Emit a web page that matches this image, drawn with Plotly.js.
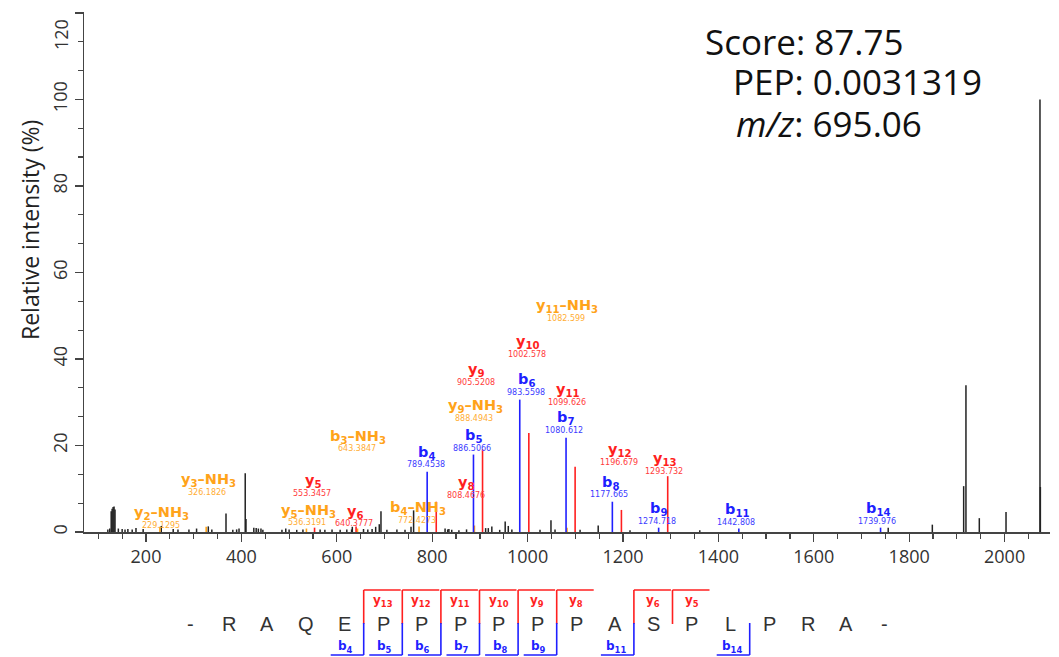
<!DOCTYPE html>
<html><head><meta charset="utf-8">
<script src="https://cdn.plot.ly/plotly-3.0.1.min.js"></script>
<style>html,body{margin:0;padding:0;background:#fff;}#chart{width:1059px;height:657px;}</style>
</head><body><div id="chart"></div>
<script>
// ---------------- data ----------------
const unassignedMz = [120,124,127,129,131,133,135,142,150,156,162,171,179,194,232,257,267,290,306,330.6,338,367.7,382,390,395,408,409.6,426,431,435.5,441,445,485,493,500,516,529,565,575,590,607,621,631,632.5,656,665,674,681.5,689,692.6,705,726,743,755.6,761,827,832.5,835,841,856,872,912,917.6,925,941.5,953,959.5,967,1026,1049,1057.5,1110,1148,1214.7,1361,1756,1848.5,1914.2,1919,1947,2003,2074.2,2075];
const unassignedInt = [0.6,0.8,4.8,5.4,5.8,5.9,5.2,0.8,0.7,0.6,0.7,0.6,0.9,0.7,1.4,0.7,0.6,0.6,0.8,1.3,0.6,4.3,0.5,0.6,0.8,13.6,3.0,1.0,0.9,0.8,0.8,0.5,0.5,0.8,0.6,0.5,0.6,0.6,0.5,0.6,0.5,0.6,0.6,1.2,0.7,0.6,0.7,1.2,1.8,4.8,0.5,0.6,0.5,1.2,5.0,0.8,0.6,0.7,0.5,0.4,0.6,0.9,0.9,1.3,0.5,2.4,1.4,0.6,0.5,2.7,0.6,0.5,1.5,0.4,0.4,1.0,1.7,10.6,33.9,3.2,4.6,100,10.4];

const bNames = ['b4','b5','b6','b7','b8','b9','b11','b14'];
const bMz    = [789.4538,886.5066,983.5598,1080.612,1177.665,1274.718,1442.808,1739.976];
const bInt   = [13.9,17.9,30.6,21.8,7.0,1.0,0.8,1.0];
const bLabelTxt = ['789.4538','886.5066','983.5598','1080.612','1177.665','1274.718','1442.808','1739.976'];

const yNames = ['y5','y6','y8','y9','y10','y11','y12','y13'];
const yMz    = [553.3457,640.3777,808.4676,905.5208,1002.578,1099.626,1196.679,1293.732];
const yInt   = [1.0,1.3,7.0,19.1,22.9,15.1,5.1,12.9];
const yLabelTxt = ['553.3457','640.3777','808.4676','905.5208','1002.578','1099.626','1196.679','1293.732'];

const nNames = ['y2-NH3','y3-NH3','y5-NH3','b3-NH3','b4-NH3','y9-NH3','y11-NH3'];
const nMz    = [229.1295,326.1826,536.3191,643.3847,772.4273,888.4943,1082.599];
const nInt   = [1.2,1.2,0.8,0.8,1.3,1.5,1.0];
const nLabelTxt = ['229.1295','326.1826','536.3191','643.3847','772.4273','888.4943','1082.599'];

const peptide = ['R','A','Q','E','P','P','P','P','P','P','A','S','P','L','P','R','A'];
const seqY = [13,12,11,10,9,8,6,5];
const seqB = [4,5,6,7,8,9,11,14];

const yTickVals = [0,20,40,60,80,100,120];
const yTickText = ['0','20','40','60','80','100',''];

const infoLines = ['Score: 87.75','PEP: 0.0031319','<i>m/z</i>: 695.06'];

// ---------------- layout helpers (pixel positions of text) ----------------
const P = {l:84, t:12, w:966, h:520};
const px = x => (x - P.l) / P.w;
const py = y => (P.t + P.h - y) / P.h;

const COL = {b:'#1f1fff', y:'#ff1f1f', n:'#ffa31a', k:'#222222'};
const COLNUM = {b:'#3b3bff', y:'#ff3b3b', n:'#ffad33'};

const bLabelPos = [[426.7,452.7],[473.3,436],[526.7,380],[565,418.3],[610,482.7],[658.3,509.3],[736.7,510],[878.3,509]];
const yLabelPos = [[313.3,481],[355,511.7],[466.7,483.3],[476.7,370],[528.3,342.3],[568.3,390],[620,450],[665,459.3]];
const nLabelPos = [[161.7,513.3],[208.3,480],[308.3,510.7],[358.3,436.7],[418.3,508.3],[475,406],[567.3,306]];

function sticks(mz, it){
  const xs=[], ys=[];
  mz.forEach((m,i)=>{xs.push(m,m,null); ys.push(0,it[i],null);});
  return {xs, ys};
}
function fmtIon(n){
  const m = n.match(/^([by])(\d+)(-NH3)?$/);
  let s = m[1] + '<sub>' + m[2] + '</sub>';
  if (m[3]) s += '–NH<sub>3</sub>';
  return '<b>' + s + '</b>';
}

const traces = [];
function addSticks(mz, it, color, width){
  const s = sticks(mz, it);
  traces.push({type:'scatter', mode:'lines', x:s.xs, y:s.ys, line:{color, width}, hoverinfo:'skip', showlegend:false, connectgaps:false});
}
addSticks(unassignedMz, unassignedInt, COL.k, 1.5);
addSticks(nMz, nInt, COL.n, 1.6);
addSticks(bMz, bInt, COL.b, 1.6);
addSticks(yMz, yInt, COL.y, 1.6);

const ann = [];
function ionLabels(names, nums, pos, key){
  names.forEach((n,i)=>{
    const [x,y] = pos[i];
    ann.push({xref:'paper', yref:'paper', x:px(x), y:py(y), text:fmtIon(n), showarrow:false,
      xanchor:'center', yanchor:'middle', font:{family:'DejaVu Sans', size:14.5, color:COL[key]}});
    ann.push({xref:'paper', yref:'paper', x:px(x-1), y:py(y+12), text:nums[i], showarrow:false,
      xanchor:'center', yanchor:'middle', font:{family:'DejaVu Sans', size:8, color:COLNUM[key]}});
  });
}
ionLabels(bNames, bLabelTxt, bLabelPos, 'b');
ionLabels(yNames, yLabelTxt, yLabelPos, 'y');
ionLabels(nNames, nLabelTxt, nLabelPos, 'n');

// top y tick label, kept inside the picture as in the reference
ann.push({xref:'paper', yref:'paper', x:px(61), y:py(35), text:'120', textangle:-90, showarrow:false,
  xanchor:'center', yanchor:'middle', font:{family:'Open Sans', size:18, color:'#333'}});

// y-axis title
ann.push({xref:'paper', yref:'paper', x:px(30), y:py(230), text:'Relative intensity (%)', textangle:-90,
  showarrow:false, xanchor:'center', yanchor:'middle', font:{family:'Open Sans', size:23, color:'#222'}});

// info block
const infoX = [703, 731, 734];
const infoY = [41, 82, 123];
infoLines.forEach((t,i)=>{
  ann.push({xref:'paper', yref:'paper', x:px(infoX[i]), y:py(infoY[i]), text:t, showarrow:false,
    xanchor:'left', yanchor:'middle', font:{family:'Open Sans', size:35, color:'#111'}});
});

// sequence diagram
const shapes = [];
const seqAll = ['-'].concat(peptide, ['-']);
const cx = i => 190 + 38.6 * i;
seqAll.forEach((r,i)=>{
  ann.push({xref:'paper', yref:'paper', x:px(cx(i)), y:py(624), text:r, showarrow:false,
    xanchor:'center', yanchor:'middle', font:{family:'Liberation Sans', size:20, color:'#333'}});
});
const N = peptide.length;
const bx = k => 190 + 38.6 * (k + 0.5);
const line = (x0,y0,x1,y1,c) => shapes.push({type:'line', xref:'paper', yref:'paper', x0:px(x0), y0:py(y0), x1:px(x1), y1:py(y1), line:{color:c, width:1.6}});
seqY.forEach(k=>{
  const x = bx(N - k);
  line(x, 624, x, 590, COL.y);
  line(x, 590, x + 37, 590, COL.y);
  ann.push({xref:'paper', yref:'paper', x:px(x + 19), y:py(601), text:'<b>y<sub>'+k+'</sub></b>', showarrow:false,
    xanchor:'center', yanchor:'middle', font:{family:'DejaVu Sans', size:12, color:COL.y}});
});
seqB.forEach(k=>{
  const x = bx(k);
  line(x, 623, x, 655, COL.b);
  line(x - 33, 655, x, 655, COL.b);
  ann.push({xref:'paper', yref:'paper', x:px(x - 18), y:py(647), text:'<b>b<sub>'+k+'</sub></b>', showarrow:false,
    xanchor:'center', yanchor:'middle', font:{family:'DejaVu Sans', size:12, color:COL.b}});
});

const axisCommon = {showline:true, linecolor:'#444', linewidth:1.5, ticks:'outside', tickcolor:'#444', tickwidth:1.3,
  showgrid:false, zeroline:false, tickfont:{family:'Open Sans', size:18, color:'#333'}};

const layout = {
  width:1059, height:657, margin:{l:P.l, r:1059-P.l-P.w, t:P.t, b:657-P.t-P.h, pad:0},
  paper_bgcolor:'#fff', plot_bgcolor:'#fff', showlegend:false,
  font:{family:'Open Sans'},
  xaxis: Object.assign({}, axisCommon, {range:[70, 2095.2], dtick:200, tick0:0, ticklen:8,
    minor:{dtick:50, tick0:0, ticks:'outside', ticklen:5, tickcolor:'#444', tickwidth:1.2, showgrid:false}}),
  yaxis: Object.assign({}, axisCommon, {range:[0, 120.2], tickmode:'array', tickvals:yTickVals, ticktext:yTickText,
    ticklen:8, tickangle:-90,
    minor:{dtick:20/3, tick0:0, ticks:'outside', ticklen:5, tickcolor:'#444', tickwidth:1.2, showgrid:false}}),
  annotations: ann, shapes: shapes
};

Plotly.newPlot('chart', traces, layout, {displayModeBar:false, staticPlot:true});
</script></body></html>
